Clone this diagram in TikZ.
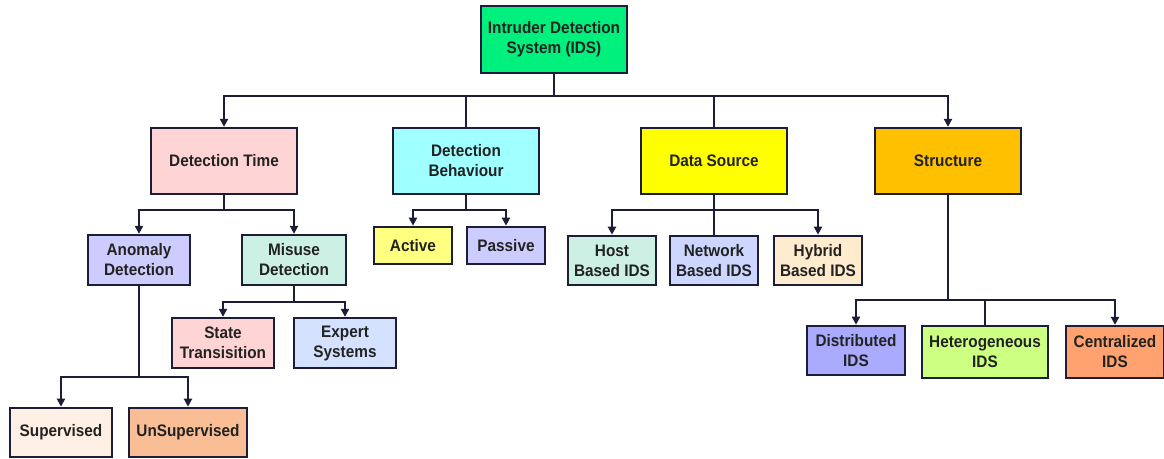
\documentclass[tikz,border=0pt]{standalone}
\usepackage{fontspec}
\setmainfont{Liberation Sans}[FakeStretch=0.92]
\usepackage{tikz}
\usetikzlibrary{arrows.meta, positioning}
\definecolor{edge}{RGB}{28,30,55}
\definecolor{ink}{RGB}{34,34,34}
\definecolor{rootgreen}{RGB}{0,240,125}
\definecolor{pinkbox}{RGB}{255,212,212}
\definecolor{cyanbox}{RGB}{160,255,255}
\definecolor{yellowbox}{RGB}{255,255,0}
\definecolor{orangebox}{RGB}{255,192,0}
\definecolor{lavender}{RGB}{204,204,255}
\definecolor{mint}{RGB}{204,240,228}
\definecolor{paleblue}{RGB}{212,226,255}
\definecolor{palepeach}{RGB}{255,240,230}
\definecolor{peach}{RGB}{250,190,150}
\definecolor{paleyellow}{RGB}{255,255,128}
\definecolor{netblue}{RGB}{204,214,255}
\definecolor{cream}{RGB}{255,235,205}
\definecolor{violet}{RGB}{170,170,255}
\definecolor{limebox}{RGB}{204,255,130}
\definecolor{salmon}{RGB}{255,162,112}

\begin{document}
\begin{tikzpicture}[
  x=0.75pt, y=-0.75pt,
  box/.style={draw=edge, line width=1.7pt, inner sep=0pt,
              font=\fontsize{12.5}{15}\selectfont\bfseries, text=ink, align=center},
  big/.style={box, minimum width=110pt, minimum height=49.5pt},
  line/.style={draw=edge, line width=1.8pt},
  arrow/.style={line, -{Triangle[length=6pt, width=6pt]}}
]
\useasboundingbox (0,0) rectangle (1164,459);

\node[box, fill=rootgreen, minimum width=109.5pt, minimum height=50pt] (ids) at (554,39.5) {Intruder Detection\\System (IDS)};

\node[big, fill=pinkbox]   (dtime)  at (224,161) {Detection Time};
\node[big, fill=cyanbox]   (dbehav) at (466,161) {Detection\\Behaviour};
\node[big, fill=yellowbox] (dsrc)   at (714,161) {Data Source};
\node[big, fill=orangebox] (struct) at (948,161) {Structure};

\node[box, fill=lavender, minimum width=77pt, minimum height=37.5pt] (anomaly) at (139,260) {Anomaly\\Detection};
\node[box, fill=mint, minimum width=78pt, minimum height=37.5pt]     (misuse)  at (294,260) {Misuse\\Detection};
\node[box, fill=pinkbox, minimum width=77pt, minimum height=37.5pt]  (state)   at (223,343) {State\\Transisition};
\node[box, fill=paleblue, minimum width=76.5pt, minimum height=37.5pt] (expert) at (345,343) {Expert\\Systems};
\node[box, fill=palepeach, minimum width=76.5pt, minimum height=37pt] (superv) at (61,432.5) {Supervised};
\node[box, fill=peach, minimum width=88pt, minimum height=37pt]      (unsuperv) at (188,432.5) {UnSupervised};

\node[box, fill=paleyellow, minimum width=58.5pt, minimum height=28pt] (active)  at (413,245.5) {Active};
\node[box, fill=lavender, minimum width=58.5pt, minimum height=28pt]   (passive) at (506,245.5) {Passive};

\node[box, fill=mint, minimum width=66pt, minimum height=37pt]   (host)    at (612,260.5) {Host\\Based IDS};
\node[box, fill=netblue, minimum width=66pt, minimum height=37pt] (network) at (714,260.5) {Network\\Based IDS};
\node[box, fill=cream, minimum width=66pt, minimum height=37pt]  (hybrid)  at (818,260.5) {Hybrid\\Based IDS};

\node[box, fill=violet, minimum width=73pt, minimum height=37pt]  (distrib) at (856,350.5) {Distributed\\IDS};
\node[box, fill=limebox, minimum width=94.5pt, minimum height=39pt] (hetero) at (985,352) {Heterogeneous\\IDS};
\node[box, fill=salmon, minimum width=73pt, minimum height=39pt]  (central) at (1115,352) {Centralized\\IDS};

% root
\draw[line]  (ids.south) -- ++(0,22) coordinate (idsbus);
\draw[arrow] (idsbus) -| (dtime);
\draw[arrow] (idsbus) -| (struct);
\draw[line]  (dbehav) |- (idsbus);
\draw[line]  (dsrc) |- (idsbus);

% detection time
\draw[line]  (dtime.south) -- ++(0,15) coordinate (dtbus);
\draw[arrow] (dtbus) -| (anomaly);
\draw[arrow] (dtbus) -| (misuse);
\draw[line]  (misuse.south) -- ++(0,16) coordinate (misbus);
\draw[arrow] (misbus) -| (state);
\draw[arrow] (misbus) -| (expert);
\draw[line]  (anomaly.south) -- ++(0,91) coordinate (anbus);
\draw[arrow] (anbus) -| (superv);
\draw[arrow] (anbus) -| (unsuperv);

% behaviour
\draw[line]  (dbehav.south) -- ++(0,15) coordinate (dbbus);
\draw[arrow] (dbbus) -| (active);
\draw[arrow] (dbbus) -| (passive);

% data source
\draw[line]  (dsrc.south) -- ++(0,15) coordinate (dsbus);
\draw[arrow] (dsbus) -| (host);
\draw[arrow] (dsbus) -| (hybrid);
\draw[line]  (dsrc) -- (network);

% structure
\draw[line]  (struct.south) -- ++(0,105) coordinate (stbus);
\draw[arrow] (stbus) -| (distrib);
\draw[arrow] (stbus) -| (central);
\draw[line]  (hetero) |- (stbus);

\end{tikzpicture}
\end{document}
